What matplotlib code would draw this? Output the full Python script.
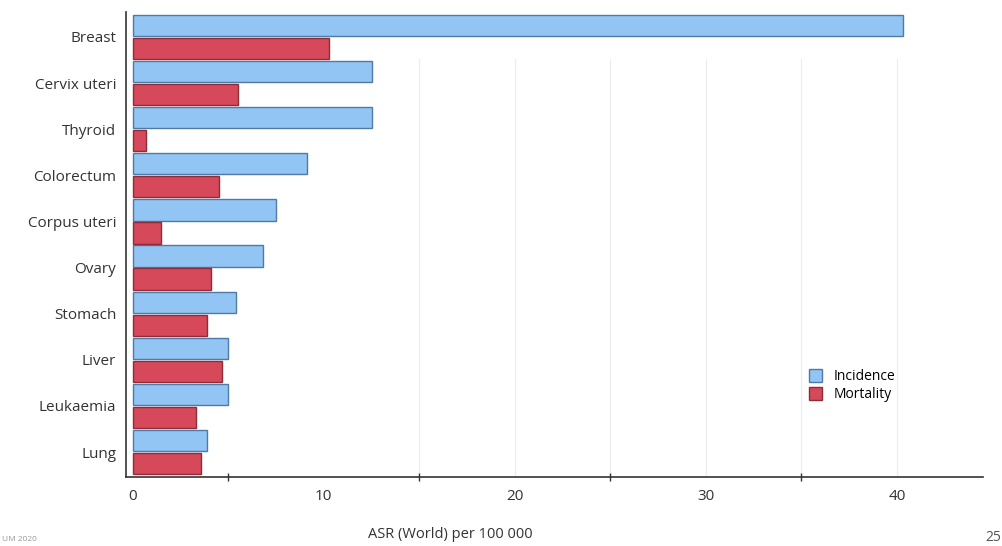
import matplotlib.pyplot as plt
import numpy as np

# data (ASR World per 100 000)
cancers = ['Breast', 'Cervix uteri', 'Thyroid', 'Colorectum', 'Corpus uteri',
           'Ovary', 'Stomach', 'Liver', 'Leukaemia', 'Lung']
incidence = [40.3, 12.5, 12.5, 9.1, 7.5, 6.8, 5.4, 5.0, 5.0, 3.9]
mortality = [10.3, 5.5, 0.7, 4.5, 1.5, 4.1, 3.9, 4.7, 3.3, 3.6]
xticks = [0, 10, 20, 30, 40]

inc_color = '#92c5f3'
inc_edge = '#4f7aa6'
mort_color = '#d6495b'
mort_edge = '#8e2c3a'

plt.rcParams['font.family'] = ['Open Sans', 'DejaVu Sans']

fig = plt.figure(figsize=(10.03, 5.46), dpi=100)
ax = fig.add_axes([0.1256, 0.1264, 0.8544, 0.8516])

y = np.arange(len(cancers))
h = 0.46
ax.barh(y - 0.25, incidence, height=h, color=inc_color, edgecolor=inc_edge,
        linewidth=1.0, label='Incidence', zorder=3)
ax.barh(y + 0.25, mortality, height=h, color=mort_color, edgecolor=mort_edge,
        linewidth=1.0, label='Mortality', zorder=3)

ax.set_ylim(len(cancers) - 0.46, -0.54)
ax.set_xlim(-0.35, 44.5)

ax.set_yticks(y)
ax.set_yticklabels(cancers, fontsize=11, color='#333333')
ax.tick_params(axis='y', length=0, pad=7)

ax.set_xticks(xticks)
ax.set_xticklabels([str(t) for t in xticks], fontsize=11, color='#333333')
ax.tick_params(axis='x', which='major', length=0, pad=9)
ax.set_xticks([5, 15, 25, 35], minor=True)
ax.tick_params(axis='x', which='minor', length=6, direction='inout',
               width=1.0, color='#333333')

# faint vertical lines
for gx in [15, 20, 25, 30, 35, 40]:
    ax.axvline(gx, ymax=0.9, color='#ececec', linewidth=0.8, zorder=0)

for s in ['top', 'right']:
    ax.spines[s].set_visible(False)
ax.spines['left'].set_color('#333333')
ax.spines['left'].set_linewidth(1.2)
ax.spines['bottom'].set_color('#333333')
ax.spines['bottom'].set_linewidth(1.2)

ax.set_xlabel('ASR (World) per 100 000', fontsize=10.5, color='#333333')
ax.xaxis.set_label_coords(0.378, -0.107)

ax.legend(loc='upper left', bbox_to_anchor=(0.79, 0.245), frameon=False,
          fontsize=10, handlelength=1.0, handleheight=1.1,
          handletextpad=0.8, labelspacing=0.2, borderaxespad=0)

fig.text(0.002, 0.01, 'UM 2020', fontsize=6, color='#999999')
fig.text(0.982, 0.01, '25', fontsize=10, color='#555555')

fig.savefig('out.png', dpi=100)
